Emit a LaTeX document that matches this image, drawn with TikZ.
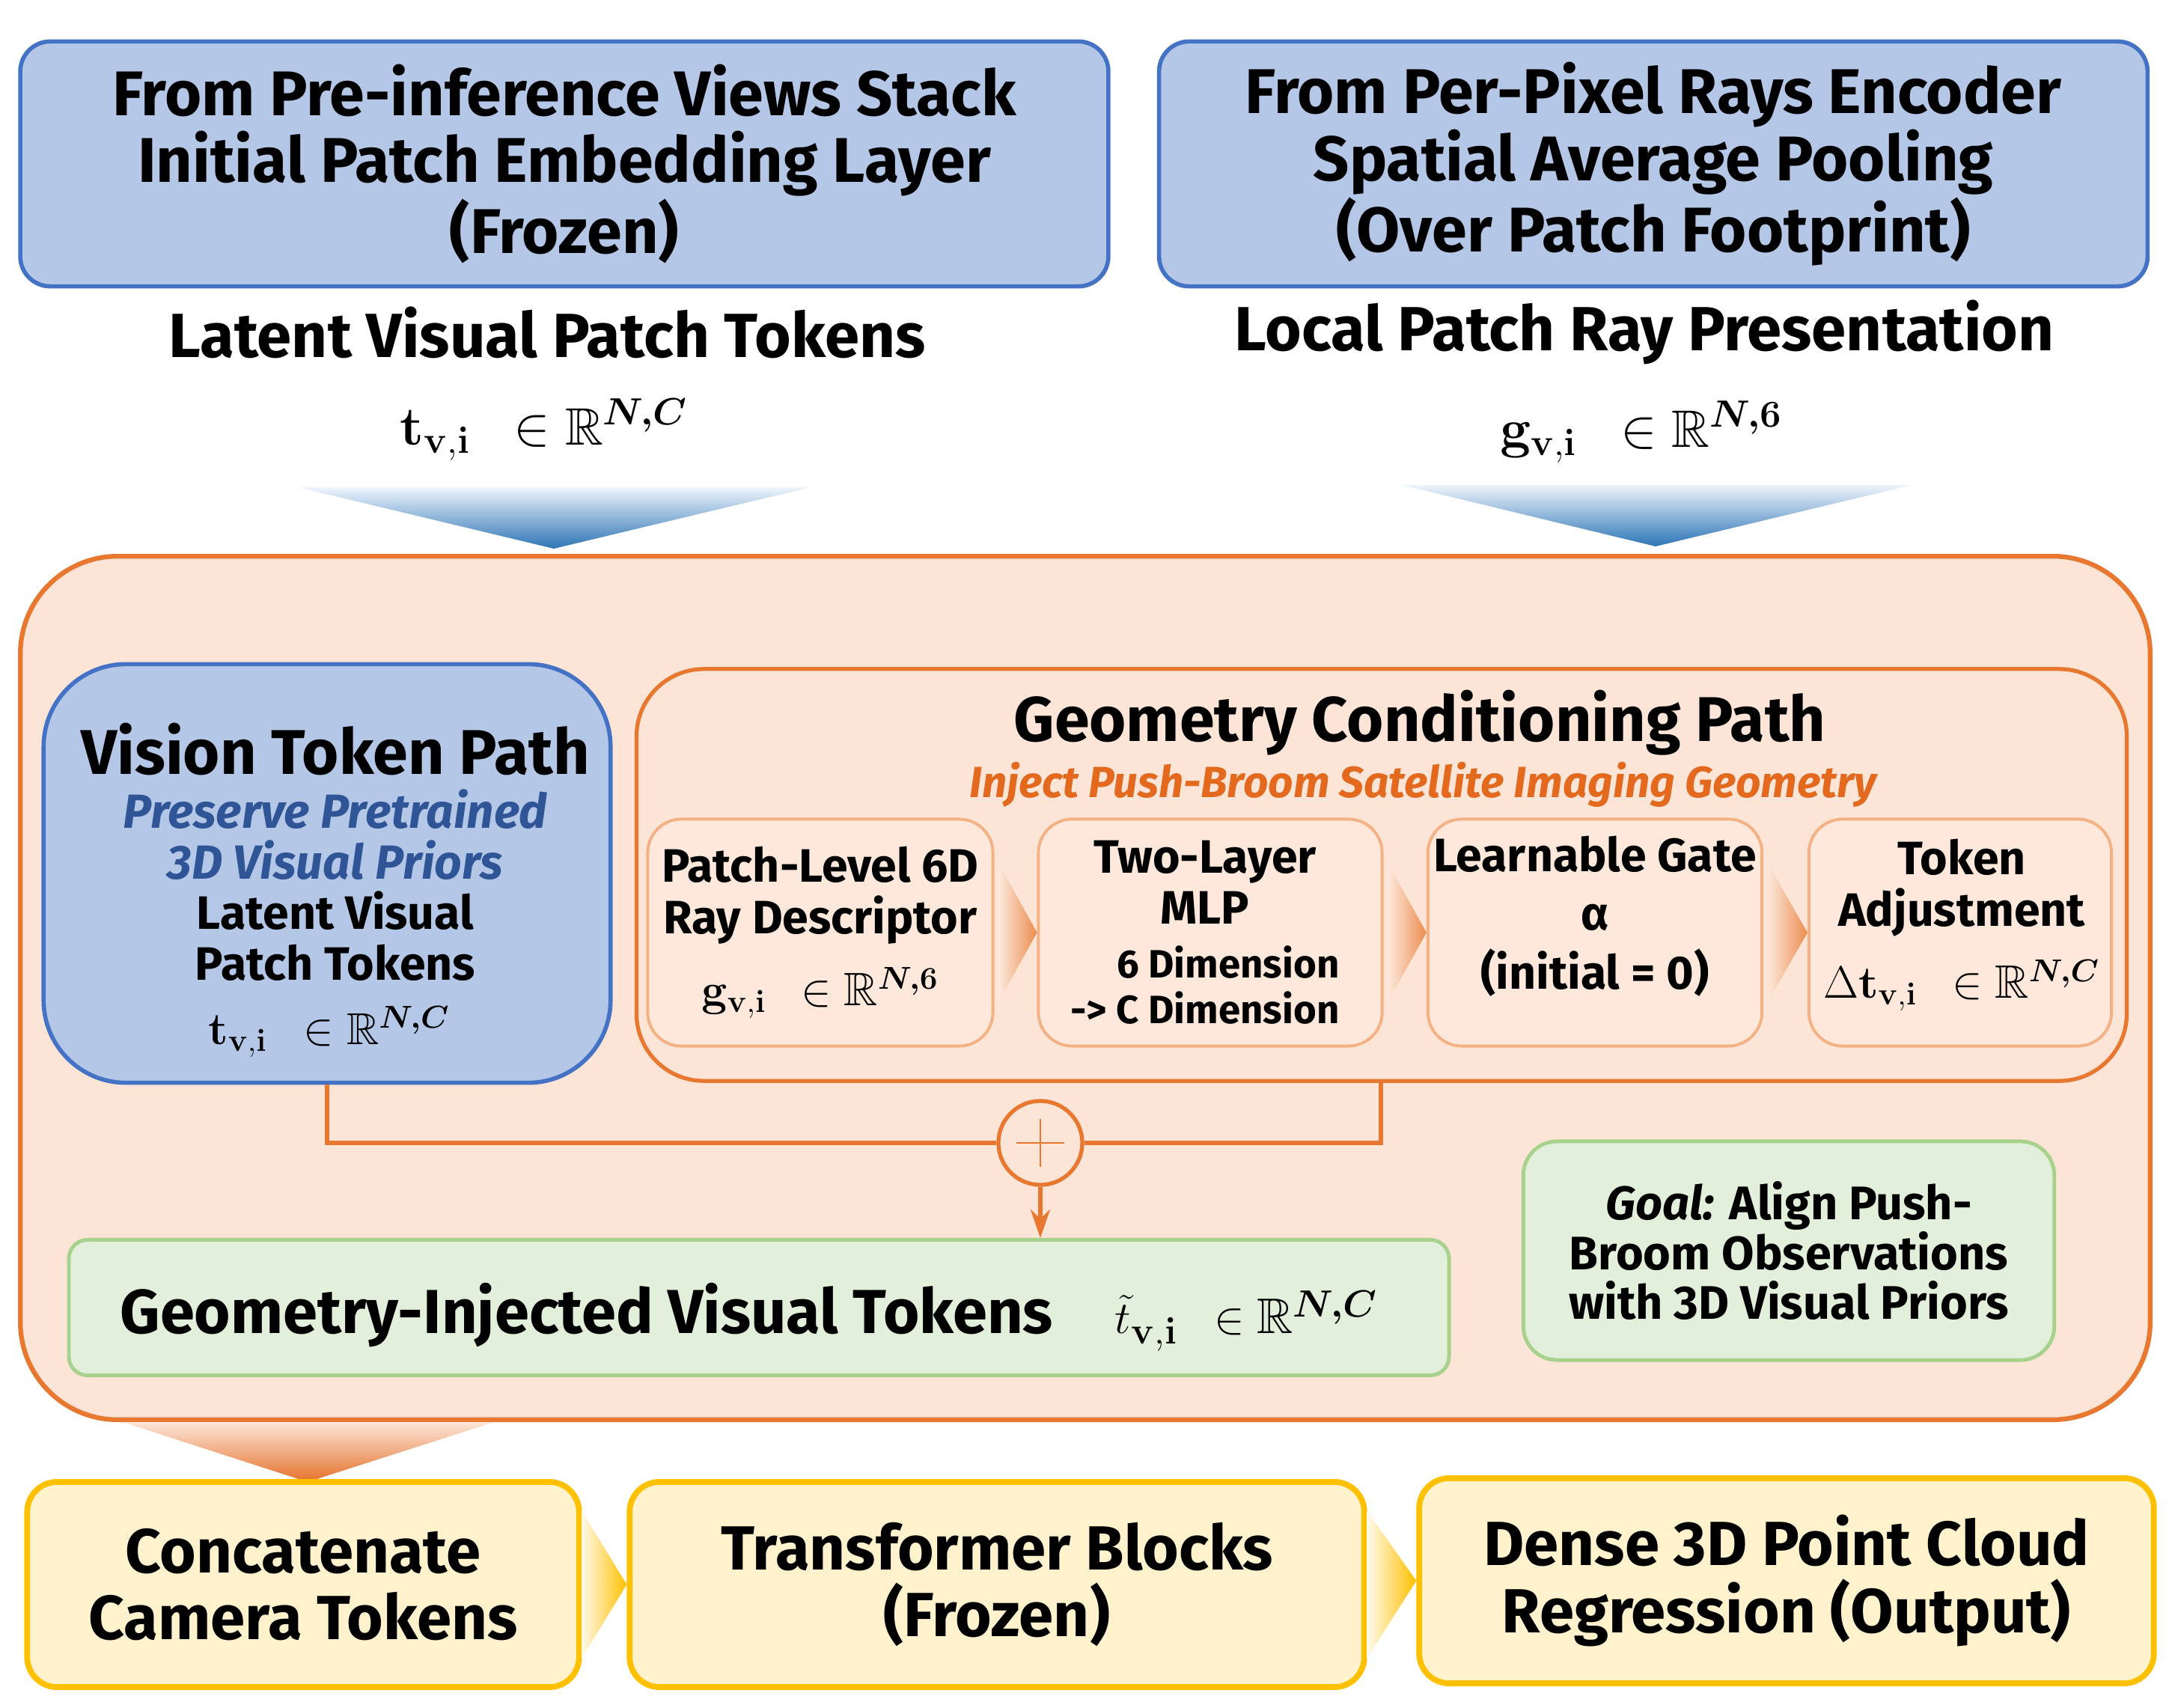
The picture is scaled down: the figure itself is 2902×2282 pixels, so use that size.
\documentclass[tikz,border=0pt]{standalone}
\usepackage{amsmath,amssymb}
\usepackage[no-math]{fontspec}
\setmainfont{Fira Sans}
\usetikzlibrary{arrows.meta,calc}

\definecolor{blueFill}{HTML}{B4C7E7}
\definecolor{blueLine}{HTML}{4472C4}
\definecolor{peachFill}{HTML}{FCE4D6}
\definecolor{stageFill}{HTML}{FDE8DB}
\definecolor{orangeLine}{HTML}{E8782F}
\definecolor{stageLine}{HTML}{F4B183}
\definecolor{greenFill}{HTML}{E2EFDA}
\definecolor{greenLine}{HTML}{A9D18E}
\definecolor{yellowFill}{HTML}{FFF2CC}
\definecolor{yellowLine}{HTML}{FFC000}
\definecolor{italBlue}{HTML}{2F5597}
\definecolor{italOrange}{HTML}{E2691D}
\definecolor{funnelTop}{HTML}{EEF4FB}
\definecolor{funnelBlue}{HTML}{2E75B6}
\definecolor{funnelOrange}{HTML}{E5712B}

\begin{document}
\begin{tikzpicture}[x=0.01cm,y=-0.01cm,
  every node/.style={font=\bfseries,inner sep=0pt},
  srcbox/.style={draw=blueLine,fill=blueFill,line width=1.6pt,rounded corners=0.4cm,align=center,
    minimum height=3.27cm,font=\fontsize{24}{25.5}\selectfont\bfseries},
  lbl/.style={font=\fontsize{23.7}{25}\selectfont\bfseries},
  mathlbl/.style={font=\fontsize{20}{24}\selectfont},
  stagebox/.style={draw=stageLine,fill=stageFill,line width=1.1pt,rounded corners=0.45cm,align=center,
    minimum width=#1,minimum height=3.03cm,font=\fontsize{17.8}{19.4}\selectfont\bfseries},
  stagetext/.style={align=center,font=\fontsize{17.8}{19.4}\selectfont\bfseries},
  endbox/.style={draw=yellowLine,fill=yellowFill,line width=2.2pt,rounded corners=0.4cm,align=center,
    minimum height=2.74cm,font=\fontsize{23.7}{25.5}\selectfont\bfseries},
  link/.style={draw=orangeLine,line width=1.5pt},
]
\fill[white] (0,0) rectangle (2902,2282);
\useasboundingbox (0,0) rectangle (2902,2282);

\node[srcbox,minimum width=14.53cm] (stack) at (754,219)
  {From Pre-inference Views Stack\\Initial Patch Embedding Layer\\(Frozen)};
\node[srcbox,minimum width=13.2cm] (rays) at (2209,219)
  {From Per-Pixel Rays Encoder\\Spatial Average Pooling\\(Over Patch Footprint)};
\node[lbl] (latv) at (731,444) {Latent Visual Patch Tokens};
\node[lbl] (locr) at (2197,444) {Local Patch Ray Presentation};
\node[mathlbl] (tv) at (727,574) {$\mathbf{t}_{\mathbf{v,i}}\ \ \in\mathbb{R}^{\boldsymbol{N,C}}$};
\node[mathlbl] (gv) at (2193,577) {$\mathbf{g}_{\mathbf{v,i}}\ \ \in\mathbb{R}^{\boldsymbol{N,6}}$};

\shade[top color=funnelTop,bottom color=funnelBlue] (398,651) -- (1083,651) -- (740,733) -- cycle;
\shade[top color=funnelTop,bottom color=funnelBlue] (1873,648) -- (2554,648) -- (2212,730) -- cycle;

\node[draw=orangeLine,fill=peachFill,line width=1.8pt,rounded corners=1.3cm,
  minimum width=28.44cm,minimum height=11.53cm] (frame) at (1450,1320) {};

\node[draw=blueLine,fill=blueFill,line width=1.6pt,rounded corners=1.1cm,
  minimum width=7.57cm,minimum height=5.59cm] (vis) at (437,1167) {};
\node[font=\fontsize{24}{26}\selectfont\bfseries] (vtitle) at (448,1001) {Vision Token Path};
\node[align=center,text=italBlue,font=\fontsize{18.2}{19.4}\selectfont\bfseries\itshape] (vprior) at (448,1115)
  {Preserve Pretrained\\3D Visual Priors};
\node[align=center,font=\fontsize{17.8}{19.4}\selectfont\bfseries] (vlat) at (448,1251) {Latent Visual\\Patch Tokens};
\node[font=\fontsize{17}{19}\selectfont] (vmath) at (440,1379) {$\mathbf{t}_{\mathbf{v,i}}\ \ \in\mathbb{R}^{\boldsymbol{N,C}}$};

\node[draw=orangeLine,fill=peachFill,line width=1.5pt,rounded corners=0.9cm,
  minimum width=19.9cm,minimum height=5.5cm] (geo) at (1846,1169) {};
\node[font=\fontsize{24}{26}\selectfont\bfseries] (gtitle) at (1897,966) {Geometry Conditioning Path};
\node[text=italOrange,font=\fontsize{16.6}{18}\selectfont\bfseries\itshape] (gsub) at (1901,1048)
  {Inject Push-Broom Satellite Imaging Geometry};

\node[stagebox=4.61cm] (ray6d) at (1096,1246)
  {Patch-Level 6D\\Ray Descriptor\\[8pt]$\mathbf{g}_{\mathbf{v,i}}\ \ \in\mathbb{R}^{\boldsymbol{N,6}}$};
\node[stagebox=4.59cm] (mlp) at (1617,1246) {};
\node[stagetext] (mlptxt) at (1610,1254)
  {Two-Layer\\MLP\\[1pt]{\fontsize{15}{17}\selectfont\begin{tabular}[t]{@{}r@{}}6 Dimension\\-> C Dimension\end{tabular}}};
\node[stagebox=4.46cm] (gate) at (2131,1246) {};
\node[stagetext] (gatetxt) at (2131,1224) {Learnable Gate\\[3pt]α\\[3pt](initial = 0)};
\node[stagebox=4.04cm] (adjust) at (2619,1246) {};
\node[stagetext] (adjtxt) at (2621,1236)
  {Token\\Adjustment\\[8pt]$\Delta\mathbf{t}_{\mathbf{v,i}}\ \ \in\mathbb{R}^{\boldsymbol{N,C}}$};
\foreach \a/\b in {ray6d/mlp,mlp/gate,gate/adjust}
  \shade[left color=stageFill,right color=orangeLine!85] ($(\a.east)+(6,-92)$) -- (\b.west) -- ($(\a.east)+(6,92)$) -- cycle;

\node[draw=greenLine,fill=greenFill,line width=1.4pt,rounded corners=0.25cm,
  minimum width=18.43cm,minimum height=1.81cm] (inj) at (1014,1747) {};
\node[font=\fontsize{23.6}{26}\selectfont\bfseries] (injtxt) at (1001,1760)
  {Geometry-Injected Visual Tokens\quad {\fontsize{19}{22}\selectfont$\tilde{t}_{\mathbf{v,i}}\ \ \in\mathbb{R}^{\boldsymbol{N,C}}$}};
\node[draw=greenLine,fill=greenFill,line width=1.4pt,rounded corners=0.45cm,align=center,
  minimum width=7.09cm,minimum height=2.92cm,font=\fontsize{17.9}{18.8}\selectfont\bfseries] (goal) at (2390,1671)
  {\textit{Goal:} Align Push-\\Broom Observations\\with 3D Visual Priors};

\coordinate (jl) at (437,1527);
\coordinate (jr) at (1845,1527);
\node[draw=orangeLine,line width=1.5pt,circle,minimum size=1.12cm] (plus) at (1390,1527) {};
\draw[link] (vis.south -| jl) -- (jl) -- (plus.west);
\draw[link] (geo.south -| jr) -- (jr) -- (plus.east);
\draw[orangeLine,line width=0.8pt] ($(plus.center)+(-32,0)$) -- ($(plus.center)+(32,0)$)
  ($(plus.center)+(0,-32)$) -- ($(plus.center)+(0,32)$);
\draw[link,-{Stealth[length=0.38cm,width=0.26cm]}] (plus.south) -- (plus |- inj.north);

\shade[top color=peachFill,bottom color=funnelOrange] (167,1901) -- (657,1901) -- (411,1980) -- cycle;

\node[endbox,minimum width=7.37cm] (concat) at (405,2117) {Concatenate\\Camera Tokens};
\node[endbox,minimum width=9.81cm] (trans) at (1332,2117) {Transformer Blocks\\(Frozen)};
\node[endbox,minimum width=9.81cm] (dense) at (2387,2112) {Dense 3D Point Cloud\\Regression (Output)};
\foreach \a/\b in {concat/trans,trans/dense}
  \shade[left color=yellowFill!40,right color=yellowLine] ($(\a.east)+(0,-98)$) -- (\b.west) -- ($(\a.east)+(0,98)$) -- cycle;
\end{tikzpicture}
\end{document}
